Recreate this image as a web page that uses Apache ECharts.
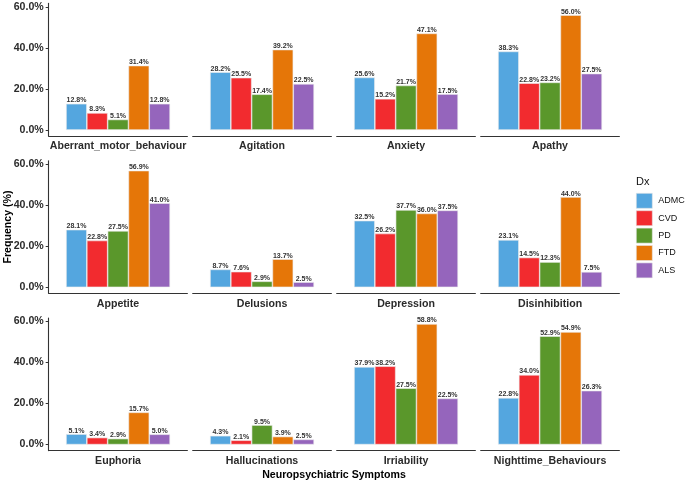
<!DOCTYPE html>
<html>
<head>
<meta charset="utf-8">
<script src="https://cdn.jsdelivr.net/npm/echarts@6/dist/echarts.min.js"></script>
<style>html,body{margin:0;padding:0;background:#fff}#c{width:685px;height:482px}</style>
</head>
<body>
<div id="c"></div>
<script>
const categories = ['Aberrant_motor_behaviour','Agitation','Anxiety','Apathy','Appetite','Delusions','Depression','Disinhibition','Euphoria','Hallucinations','Irriability','Nighttime_Behaviours'];
const groups = ['ADMCI','CVD','PD','FTD','ALS'];
const admci = [12.8, 28.2, 25.6, 38.3, 28.1, 8.7, 32.5, 23.1, 5.1, 4.3, 37.9, 22.8];
const cvd   = [8.3, 25.5, 15.2, 22.8, 22.8, 7.6, 26.2, 14.5, 3.4, 2.1, 38.2, 34.0];
const pd    = [5.1, 17.4, 21.7, 23.2, 27.5, 2.9, 37.7, 12.3, 2.9, 9.5, 27.5, 52.9];
const ftd   = [31.4, 39.2, 47.1, 56.0, 56.9, 13.7, 36.0, 44.0, 15.7, 3.9, 58.8, 54.9];
const als   = [12.8, 22.5, 17.5, 27.5, 41.0, 2.5, 37.5, 7.5, 5.0, 2.5, 22.5, 26.3];
const yTicks = [0, 20, 40, 60];

const values = [admci, cvd, pd, ftd, als];
const colors = ['#54A6DF', '#F22B2F', '#5A972B', '#E57608', '#9565BC'];

const font = 'Liberation Sans, Arial, sans-serif';
const colLeft = [48.7, 192.7, 336.7, 480.7];
const panelW = 138.7;
const rowTop = [3.4, 160.7, 318.0];
const panelH = 132.6;
const dataMax = Math.max(...values.flat());
const pad = dataMax * 0.05;

const grid = [], xAxis = [], yAxis = [], series = [];
categories.forEach((cat, i) => {
  const r = Math.floor(i / 4), c = i % 4;
  grid.push({ left: colLeft[c], top: rowTop[r], width: panelW, height: panelH, containLabel: false });
  xAxis.push({
    type: 'category', gridIndex: i, data: [cat],
    axisLine: { onZero: false, lineStyle: { color: '#333', width: 1.1 } },
    axisTick: { alignWithLabel: true, length: 3, lineStyle: { color: '#333' } },
    axisLabel: { fontFamily: font, fontWeight: 'bold', fontSize: 10.6, color: '#2b2b2b', margin: 5 }
  });
  yAxis.push({
    type: 'value', gridIndex: i, min: -pad, max: dataMax + pad,
    show: c === 0,
    splitLine: { show: false },
    axisLine: { show: true, lineStyle: { color: '#333', width: 1.1 } },
    axisTick: { show: true, length: 3, customValues: yTicks, lineStyle: { color: '#333' } },
    axisLabel: { customValues: yTicks, formatter: v => v.toFixed(1) + '%', fontFamily: font, fontWeight: 'bold', fontSize: 10.6, color: '#2b2b2b', margin: 5 }
  });
  groups.forEach((g, k) => {
    series.push({
      type: 'bar', name: g, xAxisIndex: i, yAxisIndex: i,
      data: [values[k][i]],
      barGap: '0%', barCategoryGap: '25%',
      itemStyle: { color: colors[k], borderColor: '#ececec', borderWidth: 0.6 },
      label: { show: true, position: 'top', distance: 0, formatter: p => p.value.toFixed(1) + '%', fontFamily: font, fontWeight: 'bold', fontSize: 7, color: '#333' },
      animation: false
    });
  });
});

const chart = echarts.init(document.getElementById('c'), null, { renderer: 'canvas' });
chart.setOption({
  animation: false,
  backgroundColor: '#fff',
  grid, xAxis, yAxis, series,
  legend: {
    data: groups, orient: 'vertical', left: 636, top: 193, padding: 0,
    itemWidth: 16, itemHeight: 15, itemGap: 1.8, icon: 'rect',
    textStyle: { fontFamily: font, fontSize: 9, color: '#111', padding: [0, 0, 0, 1] },
    itemStyle: { borderColor: '#e6e6e6', borderWidth: 0.6 }
  },
  graphic: [
    { type: 'text', left: 636, top: 176, style: { text: 'Dx', font: '11px ' + font, fill: '#111' } },
    { type: 'text', x: 8, y: 227, rotation: Math.PI / 2, style: { text: 'Frequency (%)', font: 'bold 10.6px ' + font, fill: '#000', align: 'center', verticalAlign: 'middle' } },
    { type: 'text', x: 334, y: 475, style: { text: 'Neuropsychiatric Symptoms', font: 'bold 10.6px ' + font, fill: '#000', align: 'center', verticalAlign: 'middle' } }
  ]
});
</script>
</body>
</html>
